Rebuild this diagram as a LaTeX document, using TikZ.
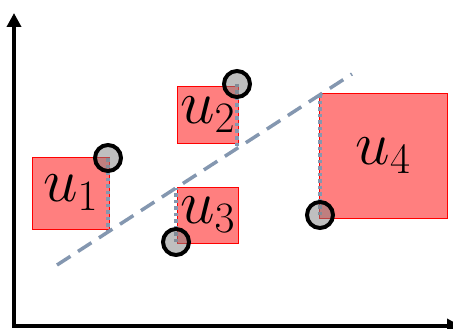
\documentclass[tikz,border=0pt]{standalone}
\usepackage{fix-cm}
\usetikzlibrary{arrows.meta,calc}
\definecolor{fitblue}{RGB}{132,151,176}

\begin{document}
\begin{tikzpicture}[
  x=1pt, y=-1pt,
  axis/.style={line width=4pt, -{Triangle[width=14pt,length=14pt]}},
  unit/.style={draw=red, line width=0.8pt, fill=red, fill opacity=0.5, text opacity=1, inner sep=0pt, font=\fontsize{62}{62}\selectfont},
  fitline/.style={line width=3.5pt, draw=fitblue, dash pattern=on 16pt off 9pt},
  resid/.style={line width=4pt, draw=fitblue, dash pattern=on 3.5pt off 3pt},
  point/.style={circle, draw=black, line width=4pt, fill=black!50, fill opacity=0.5, draw opacity=1, minimum size=26pt, inner sep=0pt}
]
\useasboundingbox (0,0) rectangle (453,329);

% axes
\coordinate (origin) at (14,326);
\coordinate (ytip) at (14,13);
\coordinate (xtip) at (461,326);
\draw[axis] (origin) -- (ytip);
\draw[axis] (12,326) -- (xtip);

% units
\node[unit, minimum width=77pt, minimum height=72pt] (u1) at (70.5,193) {$u_1$};
\node[unit, minimum width=61pt, minimum height=57pt] (u2) at (207.5,114.5) {$u_2$};
\node[unit, minimum width=61pt, minimum height=56pt] (u3) at (207.5,215) {$u_3$};
\node[unit, minimum width=128pt, minimum height=125pt] (u4) at (383,155.5) {$u_4$};

% fitted line
\coordinate (la) at (57,265);
\coordinate (lb) at (352,74);
\draw[fitline] (la) -- (lb);

% observations
\coordinate (p1) at (108,158);
\coordinate (p2) at (237,84);
\coordinate (p3) at (176,242);
\coordinate (p4) at (320,215);

% residuals
\coordinate (f1) at ($(la)!0.173!(lb)$);
\coordinate (f2) at ($(la)!0.610!(lb)$);
\coordinate (f3) at ($(la)!0.403!(lb)$);
\coordinate (f4) at ($(la)!0.892!(lb)$);
\foreach \i in {1,...,4}
  \draw[resid] (p\i) -- (p\i |- f\i);

\foreach \i in {1,...,4}
  \node[point] (c\i) at (p\i) {};

\end{tikzpicture}
\end{document}
